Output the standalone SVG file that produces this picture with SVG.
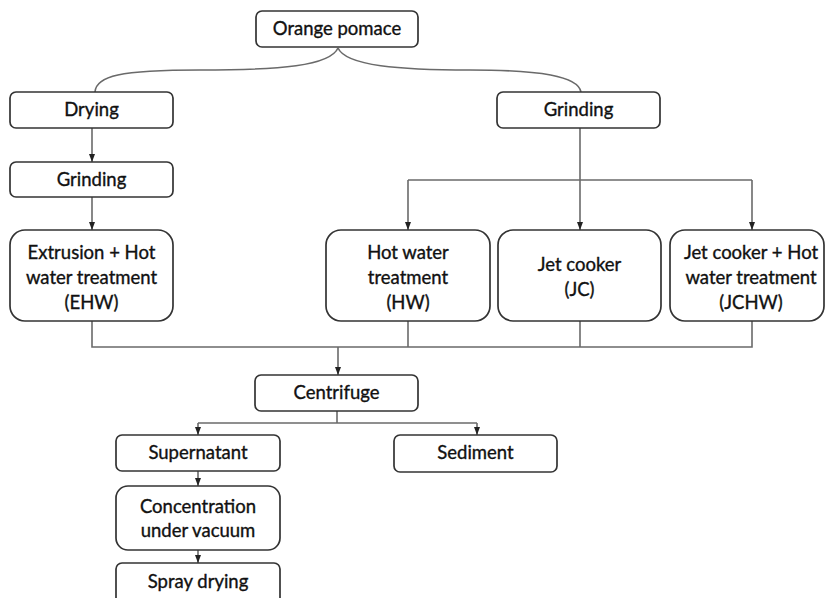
<svg xmlns="http://www.w3.org/2000/svg" width="825" height="598" viewBox="0 0 825 598">
<defs>
<marker id="ah" viewBox="0 0 8 6" refX="8" refY="3" markerWidth="8" markerHeight="6" markerUnits="userSpaceOnUse" orient="auto">
<path d="M0,0 L8,3 L0,6 Z" fill="#222"/>
</marker>
<style>
.box{fill:#fff;stroke:#333;stroke-width:1.7}
.t{font-family:Lato,"Open Sans",sans-serif;font-size:18.5px;fill:#111;stroke:#111;stroke-width:0.35;text-anchor:middle}
.c{fill:none;stroke:#6a6a6a;stroke-width:1.6}
.a{marker-end:url(#ah)}
</style>
</defs>
<rect width="825" height="598" fill="#fff"/>
<g id="connectors">
<path class="c" d="M338,48 C330,66 280,70 200,70 C120,70 96,76 95,92"/>
<path class="c" d="M338,48 C346,66 400,70 470,70 C540,70 578,76 581,92"/>
<path class="c a" d="M92,128 V162"/>
<path class="c a" d="M92,197 V230"/>
<path class="c a" d="M580,128 V230"/>
<path class="c" d="M408,180 H752"/>
<path class="c a" d="M408,180 V230"/>
<path class="c a" d="M752,180 V230"/>
<path class="c" d="M92,321 V347 H752 V321"/>
<path class="c" d="M408,321 V347"/>
<path class="c" d="M580,321 V347"/>
<path class="c a" d="M338,347 V375"/>
<path class="c" d="M337,411 V423"/>
<path class="c" d="M198,423 H477"/>
<path class="c a" d="M198,423 V435"/>
<path class="c a" d="M477,423 V435"/>
<path class="c a" d="M198,471 V486"/>
<path class="c a" d="M198,550 V563"/>
</g>
<g id="orange-pomace"><rect class="box" x="256" y="11" width="162" height="36" rx="6"/><text class="t" x="337" y="35">Orange pomace</text></g>
<g id="drying"><rect class="box" x="10" y="92" width="163" height="36" rx="6"/><text class="t" x="91.5" y="116">Drying</text></g>
<g id="grinding-left"><rect class="box" x="10" y="162" width="163" height="35" rx="6"/><text class="t" x="91.5" y="186">Grinding</text></g>
<g id="grinding-right"><rect class="box" x="497" y="92" width="163" height="36" rx="6"/><text class="t" x="578.5" y="116">Grinding</text></g>
<g id="ehw"><rect class="box" x="10" y="230" width="163" height="91" rx="15"/><text class="t" x="91.5" y="259">Extrusion + Hot</text><text class="t" x="91.5" y="284">water treatment</text><text class="t" x="91.5" y="309">(EHW)</text></g>
<g id="hw"><rect class="box" x="326" y="230" width="164" height="91" rx="15"/><text class="t" x="408" y="259">Hot water</text><text class="t" x="408" y="284">treatment</text><text class="t" x="408" y="309">(HW)</text></g>
<g id="jc"><rect class="box" x="498" y="230" width="163" height="91" rx="15"/><text class="t" x="579.5" y="271">Jet cooker</text><text class="t" x="579.5" y="296">(JC)</text></g>
<g id="jchw"><rect class="box" x="670" y="230" width="154" height="91" rx="15"/><text class="t" x="751" y="259">Jet cooker + Hot</text><text class="t" x="751" y="284">water treatment</text><text class="t" x="751" y="309">(JCHW)</text></g>
<g id="centrifuge"><rect class="box" x="255" y="375" width="163" height="36" rx="6"/><text class="t" x="336.5" y="399">Centrifuge</text></g>
<g id="supernatant"><rect class="box" x="116" y="435" width="164" height="36" rx="6"/><text class="t" x="198" y="459">Supernatant</text></g>
<g id="sediment"><rect class="box" x="394" y="435" width="163" height="37" rx="6"/><text class="t" x="475.5" y="459">Sediment</text></g>
<g id="concentration"><rect class="box" x="116" y="486" width="164" height="64" rx="12"/><text class="t" x="198" y="513">Concentration</text><text class="t" x="198" y="537">under vacuum</text></g>
<g id="spray-drying"><rect class="box" x="116" y="563" width="164" height="45" rx="6"/><text class="t" x="198" y="588">Spray drying</text></g>
</svg>
